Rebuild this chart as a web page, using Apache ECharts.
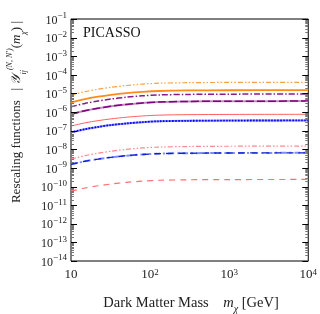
<!DOCTYPE html>
<html><head><meta charset="utf-8">
<script src="https://cdn.jsdelivr.net/npm/echarts@6/dist/echarts.min.js"></script>
<style>html,body{margin:0;padding:0;background:#fff}#c{width:320px;height:314px}</style>
</head><body><div id="c"></div>
<script>
const masses = [10, 15, 22, 32, 50, 80, 130, 300, 1000, 10000];
const orangeDashDot = [8.1e-6, 1.25e-5, 1.69e-5, 2.14e-5, 2.68e-5, 3.18e-5, 3.56e-5, 3.79e-5, 3.92e-5, 3.98e-5];
const orangeSolid   = [3.31e-6, 4.99e-6, 6.67e-6, 8.37e-6, 1.035e-5, 1.22e-5, 1.36e-5, 1.45e-5, 1.49e-5, 1.51e-5];
const purpleDashDot = [1.91e-6, 2.92e-6, 3.95e-6, 5.02e-6, 6.28e-6, 7.46e-6, 8.36e-6, 8.89e-6, 9.18e-6, 9.33e-6];
const purpleDashed  = [7.59e-7, 1.18e-6, 1.61e-6, 2.06e-6, 2.59e-6, 3.10e-6, 3.47e-6, 3.71e-6, 3.83e-6, 3.89e-6];
const redSolid      = [1.78e-7, 2.63e-7, 3.47e-7, 4.31e-7, 5.28e-7, 6.19e-7, 6.85e-7, 7.26e-7, 7.48e-7, 7.59e-7];
const blueDotted    = [8.13e-8, 1.21e-7, 1.60e-7, 2.0e-7, 2.45e-7, 2.88e-7, 3.20e-7, 3.40e-7, 3.50e-7, 3.55e-7];
const redDashDot    = [2.95e-9, 4.56e-9, 6.19e-9, 7.89e-9, 9.89e-9, 1.18e-8, 1.32e-8, 1.41e-8, 1.46e-8, 1.48e-8];
const blueDashed    = [1.55e-9, 2.28e-9, 2.99e-9, 3.70e-9, 4.52e-9, 5.28e-9, 5.85e-9, 6.18e-9, 6.37e-9, 6.46e-9];
const redDashed     = [5.62e-11, 8.32e-11, 1.10e-10, 1.36e-10, 1.67e-10, 1.96e-10, 2.17e-10, 2.30e-10, 2.37e-10, 2.40e-10];
const xTickExps = [1, 2, 3, 4];
const yTickExps = [-14, -13, -12, -11, -10, -9, -8, -7, -6, -5, -4, -3, -2, -1];

const FONT = 'Liberation Serif';
const pair = arr => masses.map((m, i) => [m, arr[i]]);

function line(name, arr, color, width, type, z) {
  return { name, type: 'line', data: pair(arr), showSymbol: false, smooth: 0.3, z: z || 2,
    lineStyle: { color, width, type: type || 'solid' }, animation: false };
}

const tickData = [];
for (let e = 1; e < 4; e++) for (let k = 2; k <= 9; k++) tickData.push(['x', k * Math.pow(10, e), 0]);
xTickExps.forEach(e => tickData.push(['x', Math.pow(10, e), 1]));
for (let e = -14; e < -1; e++) for (let k = 2; k <= 9; k++) tickData.push(['y', k * Math.pow(10, e), 0]);
yTickExps.forEach(e => tickData.push(['y', Math.pow(10, e), 1]));

const sup = exp => '{b|10}{s|' + (exp < 0 ? '\u2212' : '') + Math.abs(exp) + '}';

const chart = echarts.init(document.getElementById('c'), null, { renderer: 'canvas' });
chart.setOption({
  animation: false,
  grid: { left: 71, right: 10, top: 19, bottom: 53, show: true, borderColor: '#000', borderWidth: 1, backgroundColor: 'transparent' },
  xAxis: {
    type: 'log', logBase: 10, min: 10, max: 10000, interval: 1,
    axisLine: { show: false }, axisTick: { show: false }, splitLine: { show: false },
    axisLabel: {
      margin: 7, color: '#222', interval: 0,
      formatter: v => { const e = Math.round(Math.log10(v)); return e === 1 ? '{b|10}' : sup(e); },
      rich: { b: { fontFamily: FONT, fontSize: 13, color: '#222' }, s: { fontFamily: FONT, fontSize: 9, color: '#222', verticalAlign: 'top', lineHeight: 9 } }
    }
  },
  yAxis: {
    type: 'log', logBase: 10, min: 1e-14, max: 1e-1, interval: 1,
    axisLine: { show: false }, axisTick: { show: false }, splitLine: { show: false },
    axisLabel: {
      margin: 4, color: '#222', interval: 0,
      formatter: v => sup(Math.round(Math.log10(v))),
      rich: { b: { fontFamily: FONT, fontSize: 12, color: '#222', lineHeight: 15, verticalAlign: 'bottom' }, s: { fontFamily: FONT, fontSize: 9, color: '#222', verticalAlign: 'top', lineHeight: 9 } }
    }
  },
  series: [
    line('oDD', orangeDashDot, '#ffa040', 1.2, [5, 2, 1.5, 2, 1.5, 2]),
    line('oS', orangeSolid, '#ff8c1a', 1.8, 'solid'),
    line('pDD', purpleDashDot, '#8a1a8a', 1.5, [6, 2, 1.5, 2]),
    line('pSl', purpleDashed, '#c48ac4', 2, 'solid'),
    line('pD', purpleDashed, '#800080', 1.5, [8, 3], 3),
    line('rS', redSolid, '#ff6060', 1, 'solid'),
    line('bSl', blueDotted, '#8080ff', 2, 'solid'),
    line('bDot', blueDotted, '#0000ee', 1.8, [1.5, 1.5], 3),
    line('rDD', redDashDot, '#ff8a8a', 1.2, [5, 2, 1.5, 2, 1.5, 2]),
    line('bDl', blueDashed, '#7f8cff', 2, [6, 3, 2, 3]),
    line('bD', blueDashed, '#1020d0', 1.4, [7, 5], 3),
    line('rD', redDashed, '#ff7070', 1.2, [6, 5]),
    {
      type: 'custom', data: tickData, z: 5, silent: true, clip: false,
      renderItem: (params, api) => {
        const cs = params.coordSys;
        const axis = api.value(0), v = api.value(1), major = api.value(2);
        const children = [];
        const st = { stroke: major ? '#000' : '#777', lineWidth: 1 };
        const len = major ? 6 : 3;
        if (axis === 'x') {
          const x = Math.round(api.coord([v, 1e-14])[0]) + 0.5;
          children.push({ type: 'line', shape: { x1: x, y1: cs.y + cs.height, x2: x, y2: cs.y + cs.height - len }, style: st });
          children.push({ type: 'line', shape: { x1: x, y1: cs.y, x2: x, y2: cs.y + len }, style: st });
        } else {
          const y = Math.round(api.coord([10, v])[1]) + 0.5;
          children.push({ type: 'line', shape: { x1: cs.x, y1: y, x2: cs.x + len, y2: y }, style: st });
          children.push({ type: 'line', shape: { x1: cs.x + cs.width, y1: y, x2: cs.x + cs.width - len, y2: y }, style: st });
        }
        return { type: 'group', children };
      }
    }
  ],
  graphic: [
    { type: 'text', left: 83, top: 26, style: { text: 'PICASSO', fontFamily: FONT, fontSize: 14, fill: '#111' } },
    { type: 'text', x: 191, y: 303, style: {
        text: '{t|Dark Matter Mass    }{i|m}{sub|\u03c7}{t| [GeV]}', align: 'center', verticalAlign: 'middle',
        rich: { t: { fontFamily: FONT, fontSize: 14.5, fill: '#222' }, i: { fontFamily: FONT, fontStyle: 'italic', fontSize: 14.5, fill: '#222' }, sub: { fontFamily: FONT, fontStyle: 'italic', fontSize: 10, fill: '#222', verticalAlign: 'bottom', lineHeight: 23 } } } },
    { type: 'text', x: 17, y: 112, rotation: Math.PI / 2, style: {
        text: '{t|Rescaling functions   | }{y|\ud835\udcb4}{sub|ij}{sup|(N, N\u2032)}{t|(}{i|m}{sub|\u03c7}{t|) |}', align: 'center', verticalAlign: 'middle',
        rich: { t: { fontFamily: FONT, fontSize: 13, fill: '#222' }, y: { fontFamily: 'DejaVu Serif', fontStyle: 'italic', fontSize: 13, fill: '#222' }, i: { fontFamily: FONT, fontStyle: 'italic', fontSize: 13, fill: '#222' }, sub: { fontFamily: FONT, fontStyle: 'italic', fontSize: 8, fill: '#222', verticalAlign: 'bottom', lineHeight: 22 }, sup: { fontFamily: FONT, fontStyle: 'italic', fontSize: 8, fill: '#222', verticalAlign: 'top', lineHeight: 22 } } } }
  ]
});
</script></body></html>
